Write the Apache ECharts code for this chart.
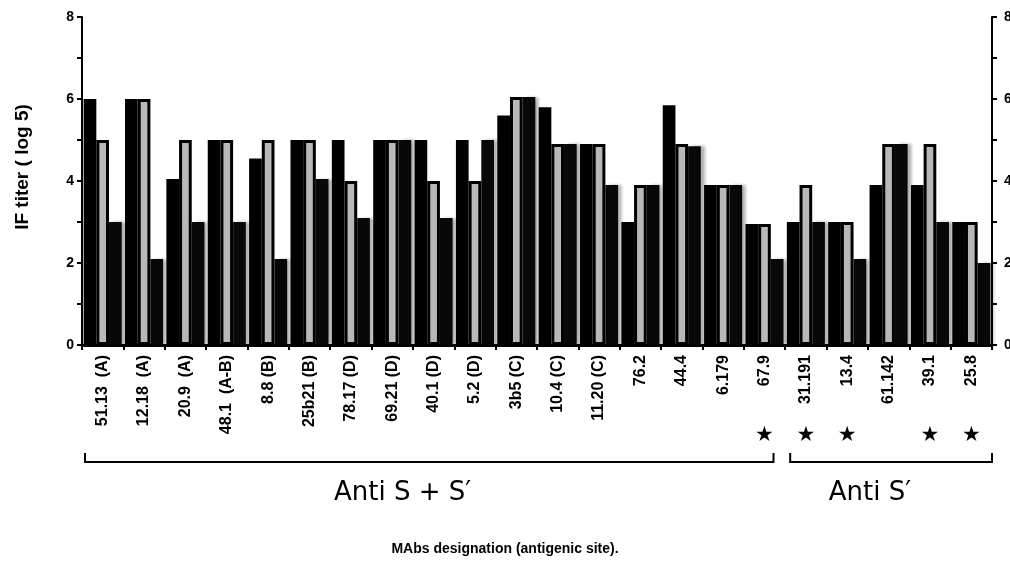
<!DOCTYPE html>
<html>
<head>
<meta charset="utf-8">
<script src="https://cdn.jsdelivr.net/npm/echarts@6/dist/echarts.min.js"></script>
<style>
  html, body { margin: 0; padding: 0; background: #fff; overflow: hidden; }
  #chart { width: 1010px; height: 565px; }
</style>
</head>
<body>
<div id="chart"></div>
<script>
// MAbs and antigenic site
var mabs = ['51.13  (A)', '12.18  (A)', '20.9  (A)', '48.1  (A-B)', '8.8 (B)', '25b21 (B)',
  '78.17 (D)', '69.21 (D)', '40.1 (D)', '5.2 (D)', '3b5 (C)', '10.4 (C)', '11.20 (C)',
  '76.2', '44.4', '6.179', '67.9', '31.191', '13.4', '61.142', '39.1', '25.8'];
// IF titer (log 5), three bars per MAb
var barFirst  = [6, 6, 4.05, 5, 4.55, 5, 5, 5, 5, 5, 5.6, 5.8, 4.9, 3, 5.85, 3.9, 2.95, 3, 3, 3.9, 3.9, 3];
var barMiddle = [5, 6, 5, 5, 5, 5, 4, 5, 4, 4, 6.05, 4.9, 4.9, 3.9, 4.9, 3.9, 2.95, 3.9, 3, 4.9, 4.9, 3];
var barLast   = [3, 2.1, 3, 3, 2.1, 4.05, 3.1, 5, 3.1, 5, 6.05, 4.9, 3.9, 3.9, 4.85, 3.9, 2.1, 3, 2.1, 4.9, 3, 2];
// starred MAbs
var starred = [0, 0, 0, 0, 0, 0, 0, 0, 0, 0, 0, 0, 0, 0, 0, 0, 1, 1, 1, 0, 1, 1];
var yTicks = [0, 2, 4, 6, 8];
// groups under the axis: first index, last index, text
var groups = [[0, 16, 'Anti S + S\u2032'], [17, 21, 'Anti S\u2032']];
// where each group name sits, in category units
var groupTextAt = [7.25, 18.55];

var chart = echarts.init(document.getElementById('chart'));
var font = '"Liberation Sans", Arial, sans-serif';

var yAxisBase = {
  type: 'value', min: 0, max: 8, interval: 1,
  axisLine: { show: true, lineStyle: { color: '#000', width: 2 } },
  axisTick: { show: true, length: 5, lineStyle: { color: '#000', width: 2 } },
  splitLine: { show: false },
  axisLabel: {
    color: '#000', fontSize: 14, fontWeight: 'bold', fontFamily: font,
    formatter: function (v) { return yTicks.indexOf(v) >= 0 ? String(v) : ''; }
  }
};

var option = {
  backgroundColor: '#fff',
  animation: false,
  grid: { left: 82, right: 18, top: 17, bottom: 220, outerBoundsMode: 'none' },
  xAxis: [{
    type: 'category', data: mabs,
    axisLine: { lineStyle: { color: '#000', width: 3 } },
    axisTick: { show: true, length: 5, lineStyle: { color: '#000', width: 2 } },
    axisLabel: { rotate: 90, interval: 0, margin: 10, color: '#000', fontSize: 16, fontWeight: 'bold', fontFamily: font }
  }, {
    type: 'category', data: mabs, position: 'bottom', offset: 80,
    axisLine: { show: false }, axisTick: { show: false },
    axisLabel: {
      interval: 0, margin: 0, color: '#000', fontSize: 21, fontFamily: '"DejaVu Sans", sans-serif',
      formatter: function (v, i) { return starred[i] ? '\u2605' : ''; }
    }
  }],
  yAxis: [
    Object.assign({}, yAxisBase, { position: 'left' }),
    // right labels run off the page edge, as in the scan
    Object.assign({}, yAxisBase, { position: 'right', axisLabel: Object.assign({}, yAxisBase.axisLabel, { margin: 12 }) })
  ],
  series: [{
    type: 'bar', data: barFirst, barGap: '0%', barCategoryGap: '8%',
    itemStyle: { color: '#000' }
  }, {
    type: 'bar', data: barMiddle,
    itemStyle: { color: '#b8b8b8', borderColor: '#000', borderWidth: 3 }
  }, {
    type: 'bar', data: barLast,
    itemStyle: { color: '#080808', shadowColor: 'rgba(0,0,0,0.3)', shadowOffsetX: 4, shadowBlur: 3 }
  }],
  textStyle: { fontFamily: font }
};
chart.setOption(option);

// brackets and group names, positioned from the category axis
var c0 = chart.convertToPixel({ xAxisIndex: 0 }, 0);
var band = chart.convertToPixel({ xAxisIndex: 0 }, 1) - c0;
var els = [];
var yLine = 462, yCap = 453;
groups.forEach(function (g, k) {
  var x1 = chart.convertToPixel({ xAxisIndex: 0 }, g[0]) - band / 2 + (k === 0 ? 3 : 5);
  var x2 = k === 0 ? chart.convertToPixel({ xAxisIndex: 0 }, g[1]) + 9
                   : chart.convertToPixel({ xAxisIndex: 0 }, g[1]) + band / 2;
  els.push({
    type: 'polyline',
    shape: { points: [[x1, yCap], [x1, yLine], [x2, yLine], [x2, yCap]] },
    style: { stroke: '#000', lineWidth: 2, fill: null }
  });
  els.push({
    type: 'text', x: c0 + band * groupTextAt[k], y: 493,
    style: { text: g[2], font: '26px "DejaVu Sans", sans-serif', fill: '#000', align: 'center', verticalAlign: 'middle' }
  });
});
els.push({
  type: 'text', x: 505, y: 549,
  style: { text: 'MAbs designation (antigenic site).', font: 'bold 14px ' + font, fill: '#000', align: 'center', verticalAlign: 'middle' }
});
els.push({
  type: 'text', x: 23, y: 167, rotation: Math.PI / 2,
  style: { text: 'IF titer ( log 5)', font: 'bold 19px ' + font, fill: '#000', align: 'center', verticalAlign: 'middle' }
});
chart.setOption({ graphic: { elements: els } });
</script>
</body>
</html>
